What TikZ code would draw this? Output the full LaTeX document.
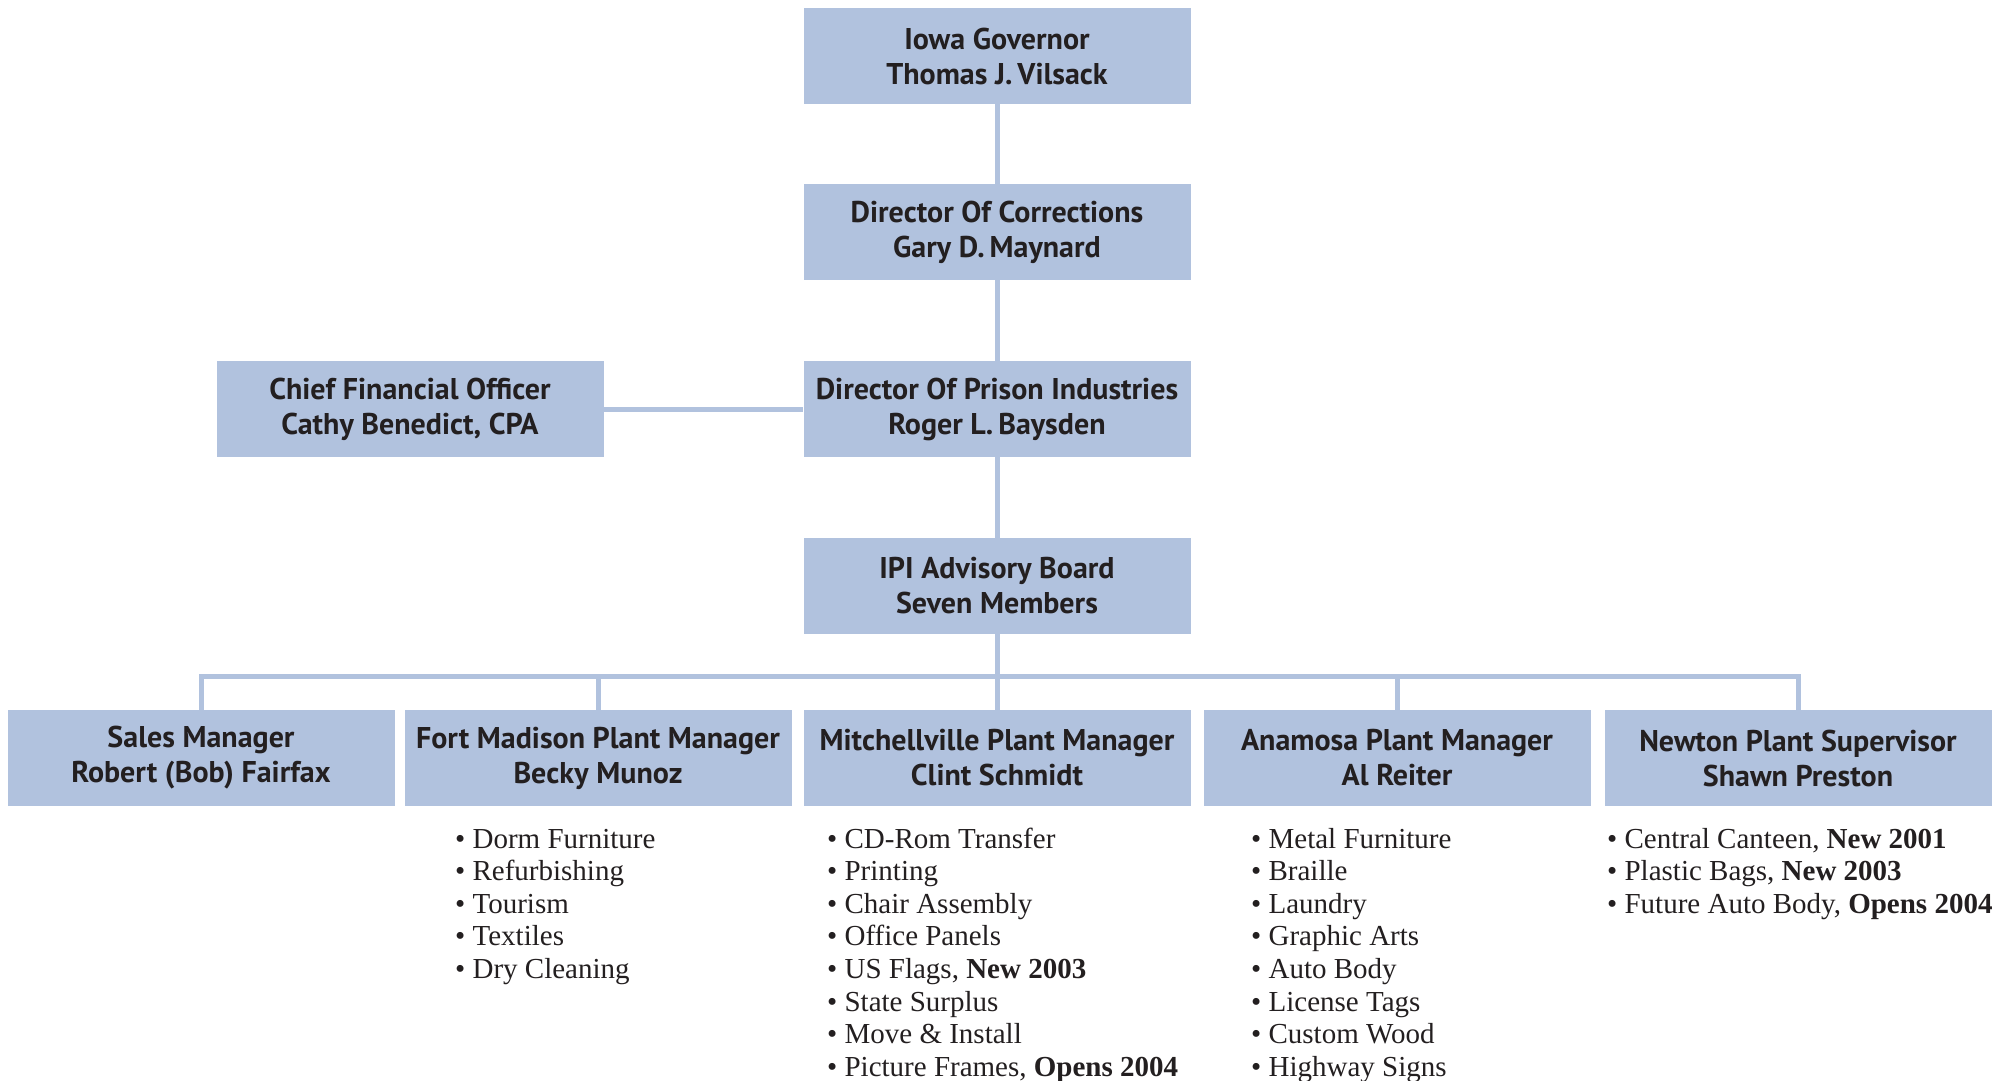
\documentclass[tikz,border=0pt]{standalone}
\usepackage{fontspec}
\setmainfont{Liberation Serif}
\newfontfamily\hdrfont{PT Sans}
\definecolor{boxblue}{RGB}{177,194,222}
\definecolor{ink}{RGB}{35,31,32}
\begin{document}
\begin{tikzpicture}[x=1pt,y=-1pt,
  orgbox/.style={rectangle, fill=boxblue, draw=none, minimum width=387pt, minimum height=96pt,
    inner sep=0pt, align=center, text=ink, font=\hdrfont\bfseries\fontsize{30}{35}\selectfont},
  conn/.style={draw=boxblue, line width=5pt},
  item/.style={anchor=base west, inner sep=0pt, text=ink, font=\fontsize{29}{33}\selectfont}
]
\useasboundingbox (0,0) rectangle (1998,1080);
% top column
\node[orgbox] (gov)  at (997,56)  {Iowa Governor\\Thomas J.\,Vilsack};
\node[orgbox] (corr) at (997,232) {Director Of Corrections\\Gary D.\,Maynard};
\node[orgbox] (pind) at (997,409) {Director Of Prison Industries\\Roger L.\,Baysden};
\node[orgbox] (cfo)  at (410,409) {Chief Financial Officer\\Cathy Benedict, CPA};
\node[orgbox] (adv)  at (997,586) {IPI Advisory Board\\Seven Members};
% bottom row
\node[orgbox] (sales) at (201,758)  {Sales Manager\\Robert (Bob) Fairfax};
\node[orgbox] (fort)  at (598,758)  {Fort Madison Plant Manager\\Becky Munoz};
\node[orgbox] (mitch) at (997,758)  {Mitchellville Plant Manager\\Clint Schmidt};
\node[orgbox] (anam)  at (1397,758) {Anamosa Plant Manager\\Al Reiter};
\node[orgbox] (newt)  at (1798,758) {Newton Plant Supervisor\\Shawn Preston};
% connectors
\coordinate (bus) at (997,676);
\draw[conn] (gov.south) -- (corr.north);
\draw[conn] (corr.south) -- (pind.north);
\draw[conn] (pind.south) -- (adv.north);
\draw[conn] (cfo.east) -- (pind.west);
\draw[conn] (adv.south) -- (mitch.north);
\draw[conn] (sales.north) |- (bus);
\draw[conn] (fort.north) |- (bus);
\draw[conn] (anam.north) |- (bus);
\draw[conn] (newt.north) |- (bus);
% lists
\foreach \t [count=\i] in {Dorm Furniture, Refurbishing, Tourism, Textiles, Dry Cleaning}
  \node[item] (fort\i) at (455,{848+(\i-1)*32.6}) {• \t};
\foreach \t [count=\i] in {CD-Rom Transfer, Printing, Chair Assembly, Office Panels,
    {US Flags, \textbf{New 2003}}, State Surplus, Move \& Install, {Picture Frames, \textbf{Opens 2004}}}
  \node[item] (mitch\i) at (827,{848+(\i-1)*32.6}) {• \t};
\foreach \t [count=\i] in {Metal Furniture, Braille, Laundry, Graphic Arts, Auto Body,
    License Tags, Custom Wood, Highway Signs}
  \node[item] (anam\i) at (1251,{848+(\i-1)*32.6}) {• \t};
\foreach \t [count=\i] in {{Central Canteen, \textbf{New 2001}}, {Plastic Bags, \textbf{New 2003}},
    {Future Auto Body, \textbf{Opens 2004}}}
  \node[item] (newt\i) at (1607,{848+(\i-1)*32.6}) {• \t};
\end{tikzpicture}
\end{document}
